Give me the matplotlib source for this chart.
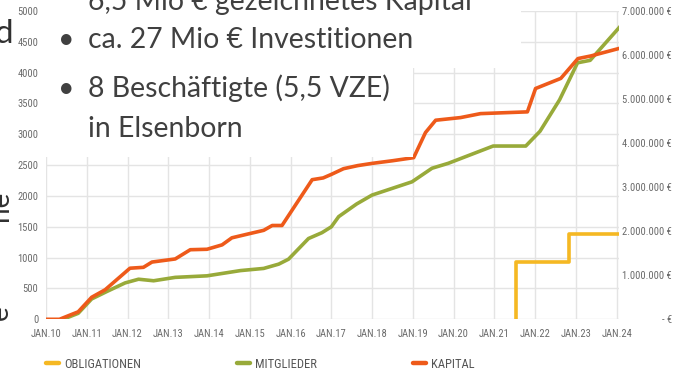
import matplotlib
matplotlib.use("Agg")
import matplotlib.pyplot as plt
from matplotlib import font_manager
from matplotlib.lines import Line2D
from matplotlib.patches import Rectangle
from matplotlib.ticker import FixedLocator

# ---------------- data ----------------
year_ticks = list(range(2010, 2025))
year_labels = ["JAN.10", "JAN.11", "JAN.12", "JAN.13", "JAN.14", "JAN.15", "JAN.16",
               "JAN.17", "JAN.18", "JAN.19", "JAN.20", "JAN.21", "JAN.22", "JAN.23", "JAN.24"]

left_ticks = [0, 500, 1000, 1500, 2000, 2500, 3000, 3500, 4000, 4500, 5000]
right_ticks = [0, 1e6, 2e6, 3e6, 4e6, 5e6, 6e6, 7e6]
right_labels = ["- €", "1.000.000 €", "2.000.000 €", "3.000.000 €", "4.000.000 €",
                "5.000.000 €", "6.000.000 €", "7.000.000 €"]

# members (left axis)
mitglieder_t = [2010.42, 2010.79, 2011.12, 2011.49, 2011.94, 2012.27, 2012.64, 2013.17,
                2013.95, 2014.77, 2015.34, 2015.71, 2015.95, 2016.44, 2016.77, 2017.0,
                2017.18, 2017.62, 2018.0, 2018.98, 2019.47, 2019.87, 2020.97, 2021.77,
                2022.12, 2022.6, 2023.04, 2023.35, 2024.06]
mitglieder = [0, 97, 330, 450, 590, 650, 625, 680,
              705, 790, 825, 895, 975, 1310, 1405, 1500,
              1665, 1870, 2015, 2230, 2450, 2530, 2810, 2810,
              3050, 3560, 4160, 4200, 4730]

# subscribed capital in € (right axis)
kapital_t = [2010.0, 2010.33, 2010.79, 2011.12, 2011.45, 2012.06, 2012.39, 2012.6,
             2013.17, 2013.54, 2013.95, 2014.32, 2014.56, 2014.97, 2015.34, 2015.55,
             2015.79, 2016.53, 2016.8, 2017.0, 2017.3, 2017.65, 2018.0, 2018.5,
             2019.02, 2019.31, 2019.56, 2020.17, 2020.66, 2021.81, 2022.01, 2022.63,
             2023.05, 2023.37, 2024.06]
kapital = [0, 0, 0.17e6, 0.50e6, 0.67e6, 1.16e6, 1.18e6, 1.30e6,
           1.37e6, 1.58e6, 1.59e6, 1.69e6, 1.85e6, 1.94e6, 2.02e6, 2.13e6,
           2.13e6, 3.17e6, 3.21e6, 3.29e6, 3.42e6, 3.49e6, 3.54e6, 3.60e6,
           3.67e6, 4.24e6, 4.52e6, 4.58e6, 4.67e6, 4.71e6, 5.24e6, 5.47e6,
           5.92e6, 5.98e6, 6.15e6]

# bonds in € (right axis), stepwise
obligationen_t = [2021.54, 2021.54, 2022.82, 2024.05]
obligationen = [0, 1.31e6, 1.94e6, 1.94e6]

bullet_lines = ["6,5 Mio € gezeichnetes Kapital", "ca. 27 Mio € Investitionen",
                "8 Beschäftigte (5,5 VZE)", "in Elsenborn"]
legend_labels = ["OBLIGATIONEN", "MITGLIEDER", "KAPITAL"]

# ---------------- style ----------------
C_OBL = "#F5B823"
C_MIT = "#98AA3A"
C_KAP = "#EE5A1A"
GRID = "#E4E4E4"
TICK = "#6A6A6A"
TXT = "#404040"


def pick_font(names, default="DejaVu Sans"):
    for n in names:
        try:
            font_manager.findfont(font_manager.FontProperties(family=n),
                                  fallback_to_default=False)
            return n
        except Exception:
            pass
    return default


NARROW = pick_font(["Liberation Sans Narrow", "Roboto Condensed", "DejaVu Sans"])
SLIDE = pick_font(["Lato", "Open Sans", "DejaVu Sans"])

W, H, DPI = 676, 376, 100
fig = plt.figure(figsize=(W / DPI, H / DPI), dpi=DPI)


def fx(px):
    return px / W


def fy(py):
    return 1 - py / H


x_left, x_right = 46, 618.7
y_bottom, y_top = 319.3, 11.0
ax = fig.add_axes([fx(x_left), fy(y_bottom), fx(x_right - x_left), (y_bottom - y_top) / H])
ax2 = ax.twinx()

ax.set_xlim(2010, 2024.05)
ax.set_ylim(0, 5000)
ax2.set_ylim(0, 7e6)

for a in (ax, ax2):
    for s in a.spines.values():
        s.set_visible(False)
    a.patch.set_visible(False)

tick_fs = 7.6
ax.xaxis.set_major_locator(FixedLocator(year_ticks))
ax.set_xticklabels(year_labels)
ax.yaxis.set_major_locator(FixedLocator(left_ticks))
ax.set_yticklabels([str(v) for v in left_ticks])
ax.grid(True, color=GRID, linewidth=1.0)
ax.set_axisbelow(True)

ax.tick_params(axis="x", length=0, pad=7.3, labelsize=tick_fs, labelcolor=TICK)
ax.tick_params(axis="y", length=0, pad=5.6, labelsize=tick_fs, labelcolor=TICK)
for lab in ax.get_xticklabels() + ax.get_yticklabels():
    lab.set_fontfamily(NARROW)

ax2.yaxis.set_major_locator(FixedLocator(right_ticks))
ax2.set_yticklabels(right_labels)
ax2.tick_params(axis="y", length=0, pad=(672 - x_right) * 72 / DPI, labelsize=tick_fs,
                labelcolor=TICK)
for lab in ax2.get_yticklabels():
    lab.set_fontfamily(NARROW)
    lab.set_horizontalalignment("right")

lw = 2.6
ax.plot(mitglieder_t, mitglieder, color=C_MIT, lw=lw, solid_joinstyle="round", zorder=3)
ax2.plot(kapital_t, kapital, color=C_KAP, lw=lw, solid_joinstyle="round", zorder=3)
ax2.plot(obligationen_t, obligationen, color=C_OBL, lw=lw, drawstyle="steps-post", zorder=3)

# legend
leg_fs = 9.0
fs_px = leg_fs * DPI / 72
handles = [Line2D([], [], color=c, lw=3.2, solid_capstyle="round") for c in (C_OBL, C_MIT, C_KAP)]
leg = fig.legend(handles, legend_labels, loc="center left",
                 bbox_to_anchor=(fx(46), fy(364)), ncol=3, frameon=False,
                 prop={"family": NARROW, "size": leg_fs},
                 handlelength=13 / fs_px, handletextpad=5 / fs_px,
                 columnspacing=96 / fs_px, borderpad=0, borderaxespad=0)
for t in leg.get_texts():
    t.set_color("#555555")

# slide text box laid over the upper left of the chart
fig.patches.append(Rectangle((fx(43), fy(157)), fx(413 - 43), 157 / H,
                             transform=fig.transFigure, facecolor="white",
                             edgecolor="none", zorder=5))
fig.patches.append(Rectangle((fx(412), fy(68)), fx(521 - 412), 68 / H,
                             transform=fig.transFigure, facecolor="white",
                             edgecolor="none", zorder=5))

slide_fs = 20.4
baselines = [10, 48, 97, 137]
for txt, b in zip(bullet_lines, baselines):
    fig.text(fx(88), fy(b), txt, family=SLIDE, size=slide_fs, color=TXT,
             ha="left", va="baseline", zorder=6)
for b in (48, 97):
    fig.text(fx(66), fy(b), "•", family=SLIDE, size=slide_fs, color=TXT,
             ha="center", va="baseline", zorder=6)

# fragments of neighbouring slide text at the left border
fig.text(fx(13), fy(43), "d", family=SLIDE, size=24, color="#303030",
         ha="right", va="baseline")
fig.text(fx(0), fy(206), "ne", family=SLIDE, size=20, color="#303030",
         ha="center", va="center", rotation=90)
fig.text(fx(0), fy(313), "e", family=SLIDE, size=20, color="#303030",
         ha="center", va="center", rotation=90)

fig.savefig("out.png", dpi=DPI)
